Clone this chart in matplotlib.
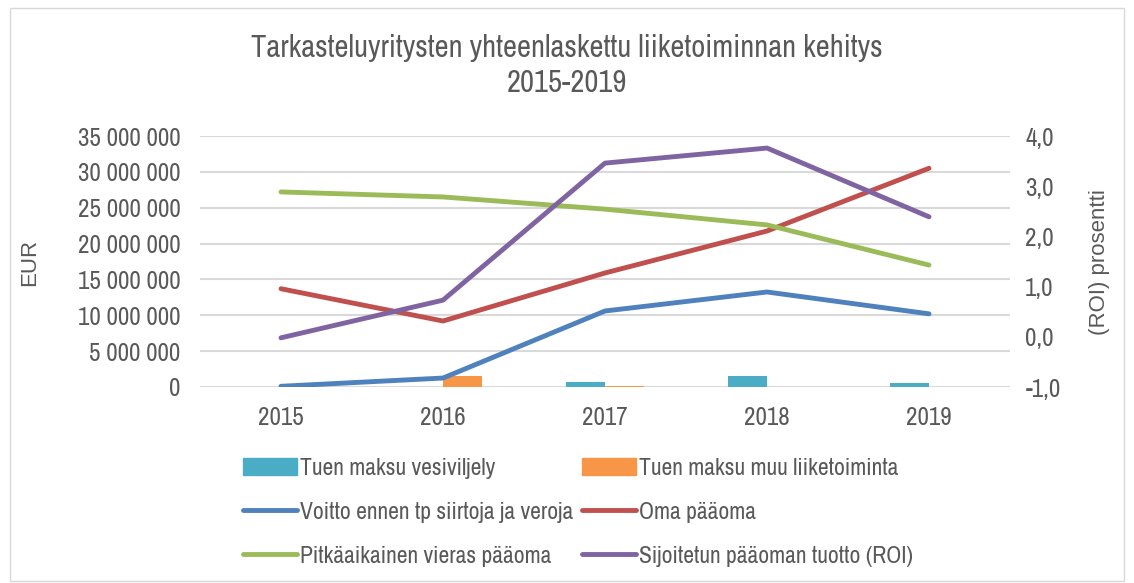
import matplotlib
matplotlib.use("Agg")
import matplotlib.pyplot as plt
from matplotlib import font_manager
from matplotlib.lines import Line2D
from matplotlib.patches import Patch, Rectangle
from matplotlib.ticker import FuncFormatter
import numpy as np

names = {f.name for f in font_manager.fontManager.ttflist}
def pick(cands):
    for c in cands:
        if c in names:
            return c
    return "DejaVu Sans"
NARROW = pick(["Liberation Sans Narrow", "Arial Narrow", "Archivo Narrow", "PT Sans Narrow", "Roboto Condensed"])
REG = pick(["Liberation Sans", "Arimo", "Arial"])

years = ["2015", "2016", "2017", "2018", "2019"]
tuki_vesiviljely = [0, 0, 700000, 1500000, 550000]
tuki_muu = [0, 1500000, 100000, 0, 0]
voitto = [100000, 1250000, 10600000, 13250000, 10200000]
oma_paaoma = [13700000, 9200000, 15900000, 21750000, 30500000]
vieras_paaoma = [27200000, 26500000, 24800000, 22600000, 17000000]
roi = [-0.02, 0.73, 3.46, 3.76, 2.39]

GRAY = "#595959"
C_TEAL, C_ORANGE = "#4bacc6", "#f79646"
C_BLUE, C_RED, C_GREEN, C_PURPLE = "#4f81bd", "#c0504d", "#9bbb59", "#8064a2"

fig = plt.figure(figsize=(11.34, 5.83), dpi=100)
fig.patches.append(Rectangle((10/1134, 2/583), 1114/1134, 573/583, transform=fig.transFigure,
                             fill=False, edgecolor="#d9d9d9", lw=1))
ax = fig.add_axes([200/1134, 1-387/583, 810/1134, 251/583])
ax2 = ax.twinx()

x = np.arange(len(years))
bw = 0.24
ax.bar(x - bw/2, tuki_vesiviljely, bw, color=C_TEAL, zorder=2)
ax.bar(x + bw/2, tuki_muu, bw, color=C_ORANGE, zorder=2)
lw = 3.5
ax.plot(x, voitto, color=C_BLUE, lw=lw, solid_capstyle="round", zorder=3)
ax.plot(x, oma_paaoma, color=C_RED, lw=lw, solid_capstyle="round", zorder=3)
ax.plot(x, vieras_paaoma, color=C_GREEN, lw=lw, solid_capstyle="round", zorder=3)
ax2.plot(x, roi, color=C_PURPLE, lw=lw, solid_capstyle="round", zorder=3)

ax.set_xlim(-0.5, len(years) - 0.5)
ax.set_ylim(0, 35000000)
ax.set_yticks(np.arange(0, 35000001, 5000000))
ax.yaxis.set_major_formatter(FuncFormatter(lambda v, p: f"{int(v):,}".replace(",", " ")))
ax2.set_ylim(-1, 4)
ax2.set_yticks(np.arange(-1, 4.01, 1))
ax2.yaxis.set_major_formatter(FuncFormatter(lambda v, p: f"{v:.1f}".replace(".", ",")))
ax.set_xticks(x)
ax.set_xticklabels(years)
ax.grid(axis="y", color="#d9d9d9", lw=1.5, zorder=0)
ax.set_axisbelow(True)
for a in (ax, ax2):
    for s in a.spines.values():
        s.set_visible(False)
    a.tick_params(length=0, colors=GRAY, labelsize=18)
    for lab in a.get_xticklabels() + a.get_yticklabels():
        lab.set_fontfamily(NARROW)
ax.tick_params(axis="y", pad=14)
ax.tick_params(axis="x", pad=14)
ax2.tick_params(axis="y", pad=11)

fig.text(30/1134, 1-262/583, "EUR", rotation=90, ha="center", va="center",
         fontsize=16, color=GRAY, family=REG)
fig.text(1100/1134, 1-262/583, "(ROI) prosentti", rotation=90, ha="center", va="center",
         fontsize=16, color=GRAY, family=REG)

fig.text(567/1134, 1-48/583, "Tarkasteluyritysten yhteenlaskettu liiketoiminnan kehitys",
         ha="center", va="center", fontsize=22, color=GRAY, family=NARROW)
fig.text(567/1134, 1-83/583, "2015-2019", ha="center", va="center", fontsize=22,
         color=GRAY, family=NARROW)

handles = [
    Patch(color=C_TEAL, label="Tuen maksu vesiviljely"),
    Line2D([], [], color=C_BLUE, lw=lw, solid_capstyle="round", label="Voitto ennen tp siirtoja ja veroja"),
    Line2D([], [], color=C_GREEN, lw=lw, solid_capstyle="round", label="Pitkäaikainen vieras pääoma"),
    Patch(color=C_ORANGE, label="Tuen maksu muu liiketoiminta"),
    Line2D([], [], color=C_RED, lw=lw, solid_capstyle="round", label="Oma pääoma"),
    Line2D([], [], color=C_PURPLE, lw=lw, solid_capstyle="round", label="Sijoitetun pääoman tuotto (ROI)"),
]
leg = fig.legend(handles=handles, ncol=2, loc="upper left", bbox_to_anchor=(243/1134, 1-458/583),
                 frameon=False, prop={"family": NARROW, "size": 17}, handlelength=2.3,
                 handleheight=0.75, handletextpad=0.12, columnspacing=0.35, labelspacing=0.97,
                 borderaxespad=0, borderpad=0)
for t in leg.get_texts():
    t.set_color(GRAY)

fig.savefig("out.png", dpi=100)
